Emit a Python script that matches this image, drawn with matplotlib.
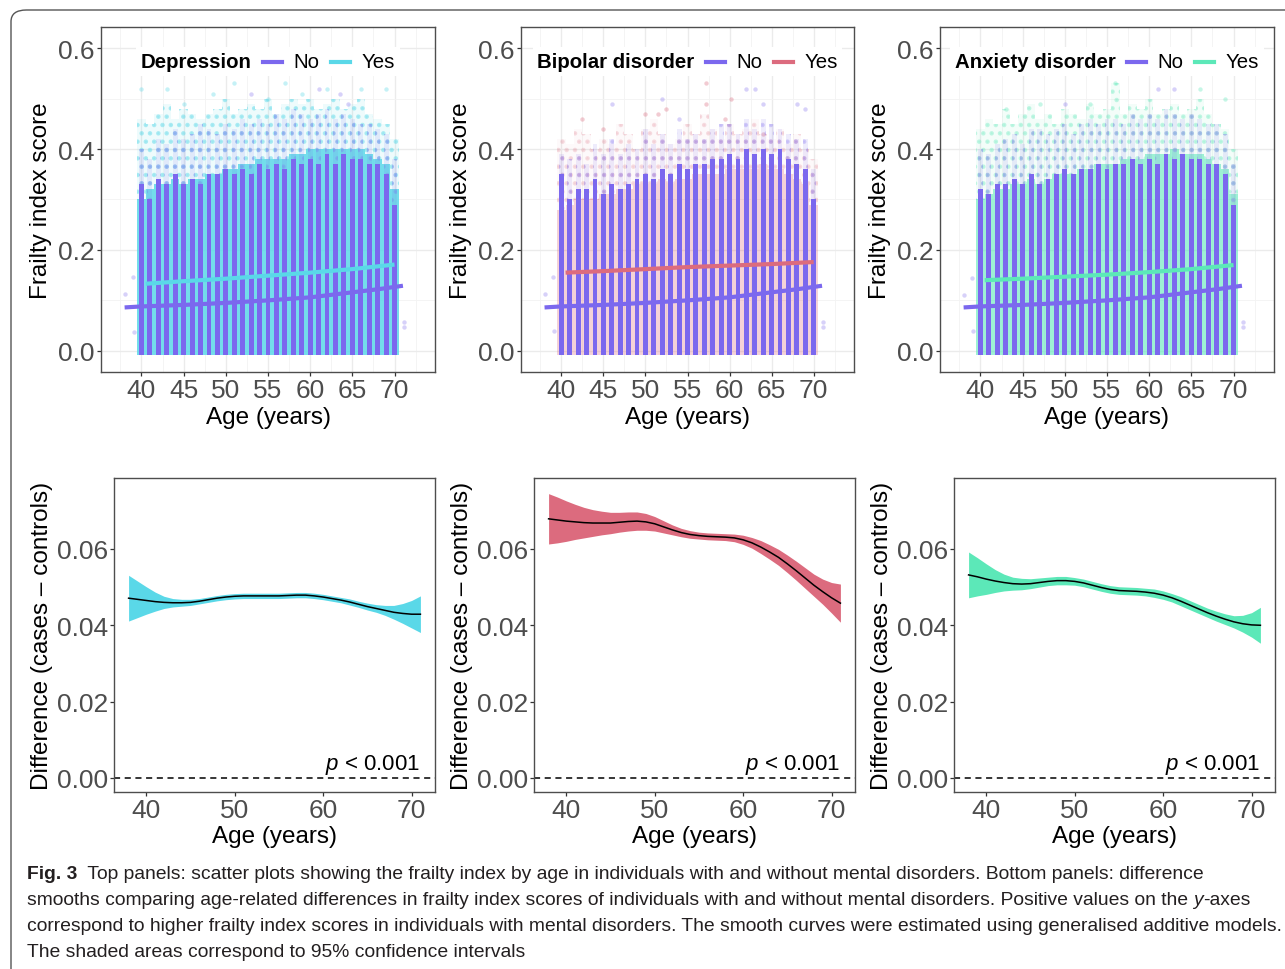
import matplotlib
matplotlib.use("Agg")
import matplotlib.pyplot as plt
from matplotlib.lines import Line2D
from matplotlib.patches import FancyBboxPatch
from matplotlib.text import Annotation
from matplotlib.offsetbox import AnchoredOffsetbox, HPacker, TextArea, DrawingArea
import numpy as np

plt.rcParams['font.family'] = ['Liberation Sans', 'DejaVu Sans']
plt.rcParams['mathtext.fontset'] = 'custom'
plt.rcParams['mathtext.it'] = 'Liberation Sans:italic'
plt.rcParams['mathtext.rm'] = 'Liberation Sans'
plt.rcParams['hatch.linewidth'] = 2.0

# ---- data ------------------------------------------------------------
ages = list(range(40, 71))

# depression: dense / sparse upper extent of the point clouds per age
dep_no_top = [.33, .30, .34, .33, .35, .33, .34, .33, .35, .35, .36, .35, .36, .35, .37, .36,
              .37, .36, .38, .37, .38, .37, .39, .37, .39, .38, .38, .37, .37, .35, .29]
dep_no_max = [.40, .38, .42, .41, .44, .42, .43, .45, .44, .43, .45, .44, .46, .45, .46, .45,
              .47, .46, .48, .47, .46, .47, .48, .46, .47, .46, .45, .45, .44, .43, .38]
dep_yes_top = [.30, .32, .33, .33, .34, .33, .34, .34, .35, .35, .36, .36, .37, .37, .38, .38,
               .38, .38, .39, .39, .40, .40, .40, .40, .40, .40, .40, .39, .38, .37, .32]
dep_yes_max = [.46, .45, .47, .49, .46, .48, .47, .46, .47, .48, .50, .47, .48, .49, .48, .50,
               .47, .49, .50, .49, .50, .48, .49, .50, .48, .49, .50, .47, .46, .45, .42]
dep_no_out_x = [38.0, 39.0, 39.1, 71.1, 71.1, 53.0, 61.0, 63.5, 64.5]
dep_no_out_y = [0.113, 0.146, 0.037, 0.058, 0.047, 0.51, 0.52, 0.51, 0.49]
dep_yes_out_x = [40.0, 43.0, 48.5, 51.0, 55.0, 57.0, 59.0, 62.0, 66.0, 69.0, 45.0]
dep_yes_out_y = [0.52, 0.52, 0.51, 0.53, 0.50, 0.53, 0.51, 0.52, 0.52, 0.52, 0.49]

# bipolar disorder
bip_no_top = [.35, .30, .32, .32, .34, .31, .33, .32, .33, .34, .35, .34, .36, .35, .37, .36,
              .37, .37, .38, .38, .39, .38, .40, .39, .40, .39, .40, .38, .37, .36, .30]
bip_no_max = [.39, .38, .39, .37, .41, .39, .42, .39, .41, .40, .44, .41, .43, .41, .44, .42,
              .43, .42, .44, .45, .45, .43, .46, .44, .46, .45, .44, .43, .42, .42, .36]
bip_yes_top = [.28, .29, .30, .30, .30, .31, .31, .32, .32, .33, .33, .33, .34, .33, .34, .34,
               .35, .35, .35, .35, .36, .36, .36, .36, .37, .36, .36, .35, .34, .33, .29]
bip_yes_max = [.42, .41, .44, .43, .40, .42, .41, .45, .43, .40, .44, .46, .43, .41, .42, .45,
               .43, .47, .44, .42, .45, .43, .44, .46, .43, .42, .44, .41, .43, .40, .38]
bip_no_out_x = [38.0, 39.0, 39.1, 71.1, 71.1, 46.0, 52.0, 54.0, 62.0, 63.0, 64.0, 68.0, 69.0]
bip_no_out_y = [0.113, 0.146, 0.040, 0.058, 0.047, 0.49, 0.50, 0.46, 0.52, 0.52, 0.49, 0.49, 0.48]
bip_yes_out_x = [42.5, 50.0, 51.5, 52.5, 57.2, 57.2, 60.2, 59.5, 45.0, 64.0]
bip_yes_out_y = [0.46, 0.47, 0.47, 0.48, 0.53, 0.49, 0.50, 0.46, 0.44, 0.43]

# anxiety disorder
anx_no_top = [.32, .31, .33, .33, .34, .33, .35, .33, .34, .35, .36, .35, .36, .36, .37, .36,
              .37, .37, .38, .37, .38, .37, .39, .38, .39, .38, .38, .37, .37, .35, .29]
anx_no_max = [.40, .39, .41, .42, .43, .41, .44, .44, .43, .44, .45, .43, .45, .46, .45, .46,
              .46, .45, .47, .46, .47, .46, .48, .47, .46, .47, .46, .45, .45, .43, .37]
anx_yes_top = [.30, .31, .32, .32, .33, .33, .34, .33, .34, .35, .35, .35, .36, .36, .37, .37,
               .37, .38, .38, .38, .39, .39, .39, .40, .39, .39, .39, .38, .37, .36, .31]
anx_yes_max = [.44, .46, .45, .48, .45, .47, .49, .46, .47, .45, .48, .47, .46, .49, .47, .48,
               .53, .47, .49, .48, .50, .47, .48, .49, .47, .48, .50, .47, .45, .44, .40]
anx_no_out_x = [38.0, 39.0, 39.1, 71.1, 71.1, 61.0, 63.0, 50.0]
anx_no_out_y = [0.110, 0.145, 0.040, 0.058, 0.047, 0.52, 0.52, 0.49]
anx_yes_out_x = [43.0, 47.0, 56.0, 66.0, 53.0, 69.0]
anx_yes_out_y = [0.48, 0.49, 0.53, 0.52, 0.49, 0.50]

# fitted smooths (top panels)
no_fit_x = [38, 40, 45, 50, 55, 60, 65, 68, 71]
no_fit_y = [0.086, 0.088, 0.091, 0.095, 0.100, 0.106, 0.116, 0.122, 0.129]
fit_x_yes = [40.5, 45, 50, 55, 60, 65, 70]
dep_fit_yes = [0.133, 0.138, 0.143, 0.149, 0.155, 0.162, 0.171]
bip_fit_yes = [0.155, 0.158, 0.162, 0.166, 0.169, 0.172, 0.176]
anx_fit_yes = [0.140, 0.143, 0.147, 0.151, 0.156, 0.162, 0.170]

# difference smooths (bottom panels)
diff_age = list(range(38, 72))
dep_diff = [.0471, .0468, .0465, .0462, .0460, .0459, .0459, .0460, .0463, .0467, .0471, .0474,
            .0476, .0477, .0477, .0477, .0477, .0477, .0478, .0479, .0479, .0477, .0474, .0470,
            .0466, .0461, .0455, .0449, .0444, .0439, .0434, .0431, .0429, .0429]
dep_half = [.0060, .0048, .0036, .0025, .0016, .0011, .0009, .0008, .0007, .0007, .0007, .0007,
            .0007, .0007, .0007, .0007, .0007, .0007, .0007, .0007, .0007, .0007, .0007, .0007,
            .0007, .0008, .0008, .0009, .0010, .0013, .0018, .0026, .0036, .0048]
bip_diff = [.0679, .0676, .0673, .0671, .0669, .0668, .0668, .0668, .0670, .0672, .0673, .0671,
            .0666, .0658, .0650, .0643, .0638, .0635, .0633, .0632, .0631, .0629, .0624, .0616,
            .0605, .0592, .0578, .0561, .0543, .0524, .0505, .0488, .0472, .0458]
bip_half = [.0066, .0060, .0053, .0046, .0040, .0035, .0031, .0028, .0026, .0025, .0024, .0022,
            .0019, .0016, .0013, .0011, .0010, .0009, .0009, .0009, .0009, .0010, .0012, .0014,
            .0017, .0019, .0021, .0023, .0025, .0027, .0029, .0033, .0040, .0050]
anx_diff = [.0532, .0527, .0521, .0516, .0512, .0509, .0508, .0509, .0512, .0515, .0517, .0517,
            .0515, .0511, .0505, .0499, .0494, .0491, .0490, .0489, .0487, .0484, .0479, .0472,
            .0463, .0453, .0443, .0433, .0424, .0416, .0409, .0404, .0401, .0400]
anx_half = [.0060, .0050, .0040, .0030, .0022, .0017, .0015, .0013, .0012, .0011, .0011, .0011,
            .0010, .0010, .0010, .0010, .0010, .0010, .0010, .0010, .0010, .0011, .0011, .0011,
            .0012, .0012, .0012, .0012, .0013, .0014, .0016, .0022, .0032, .0047]

titles = ["Depression", "Bipolar disorder", "Anxiety disorder"]
purple = "#7B68EE"
yes_colors = ["#5AD8E8", "#DC6B7E", "#5CE8B8"]
yes_alpha = [0.85, 0.3, 0.6]

top_data = [
    (dep_no_top, dep_no_max, dep_yes_top, dep_yes_max, dep_no_out_x, dep_no_out_y, dep_yes_out_x, dep_yes_out_y, dep_fit_yes),
    (bip_no_top, bip_no_max, bip_yes_top, bip_yes_max, bip_no_out_x, bip_no_out_y, bip_yes_out_x, bip_yes_out_y, bip_fit_yes),
    (anx_no_top, anx_no_max, anx_yes_top, anx_yes_max, anx_no_out_x, anx_no_out_y, anx_yes_out_x, anx_yes_out_y, anx_fit_yes),
]
bottom_data = [(dep_diff, dep_half), (bip_diff, bip_half), (anx_diff, anx_half)]

W, H = 1285, 970
fig = plt.figure(figsize=(W / 100, H / 100), dpi=100)

TICK = 19
LAB = 17.5


def px_axes(l, r, t, b):
    return fig.add_axes([l / W, 1 - b / H, (r - l) / W, (b - t) / H])


def style_box(ax):
    for s in ax.spines.values():
        s.set_color("#4D4D4D")
        s.set_linewidth(1.0)
    ax.tick_params(which="major", length=3, width=0.9, color="#333333",
                   labelcolor="#4D4D4D", labelsize=TICK, pad=1.5)
    ax.tick_params(which="minor", length=0)


def key(c):
    da = DrawingArea(13.5, 10, 0, 0)
    da.add_artist(Line2D([0, 13.5], [5, 5], color=c, lw=3))
    return da


top_pos = [(101, 435), (521, 854), (940, 1274)]
bot_pos = [(114, 435), (534, 855), (954, 1275)]

for i in range(3):
    no_top, no_max, yes_top, yes_max, nox, noy, yesx, yesy, fit_yes = top_data[i]
    col = yes_colors[i]
    ax = px_axes(top_pos[i][0], top_pos[i][1], 28, 373)
    ax.set_xlim(35.2, 74.8)
    ax.set_ylim(-0.042, 0.642)
    ax.set_xticks(range(40, 71, 5))
    ax.set_xticks(np.arange(37.5, 75, 5), minor=True)
    ax.set_yticks([0, 0.2, 0.4, 0.6])
    ax.set_yticks([0.1, 0.3, 0.5], minor=True)
    ax.set_yticklabels(["0.0", "0.2", "0.4", "0.6"])
    ax.grid(which="major", color="#EBEBEB", lw=1.0)
    ax.grid(which="minor", color="#F3F3F3", lw=0.6)
    ax.set_axisbelow(True)
    style_box(ax)

    # cases (yes) cloud: dense part, then sparse dotted part
    yt = np.array(yes_top)
    ym = np.array(yes_max)
    ax.bar(ages, yt + 0.008, bottom=-0.008, width=1.0, color=col, alpha=yes_alpha[i], lw=0, zorder=2)
    ax.bar(ages, ym - yt, bottom=yt, width=1.0, facecolor=(col, yes_alpha[i] * 0.12),
           edgecolor=(col, min(1, yes_alpha[i] * 0.45 + 0.08)), hatch="..", lw=0, zorder=2)
    ax.scatter(yesx, yesy, s=10, color=col, alpha=0.35, lw=0, zorder=2)
    # controls (no) columns
    nt = np.array(no_top)
    nm = np.array(no_max)
    ax.bar(ages, nt + 0.008, bottom=-0.008, width=0.58, color=purple, lw=0, zorder=3)
    ax.bar(ages, nm - nt, bottom=nt, width=0.58, facecolor=(purple, 0.12),
           edgecolor=(purple, 0.28), hatch="..", lw=0, zorder=3)
    ax.scatter(nox, noy, s=10, color=purple, alpha=0.3, lw=0, zorder=3)

    ax.plot(no_fit_x, no_fit_y, color=purple, lw=3, solid_capstyle="butt", zorder=5)
    ax.plot(fit_x_yes, fit_yes, color=col, lw=3, solid_capstyle="butt", zorder=5)

    ax.set_xlabel("Age (years)", fontsize=LAB, labelpad=3)
    ax.set_ylabel("Frailty index score", fontsize=LAB)
    ax.yaxis.set_label_coords(-0.146, 0.5)

    # legend with its title on the left
    items = [TextArea(titles[i], textprops=dict(fontweight="bold", fontsize=14.7)),
             key(purple), TextArea("No", textprops=dict(fontsize=14.7)),
             key(col), TextArea("Yes", textprops=dict(fontsize=14.7))]
    box = HPacker(children=items, align="center", pad=0, sep=8.3)
    anch = AnchoredOffsetbox(loc="center", child=box, pad=0.35, frameon=True,
                             bbox_to_anchor=(0.5, 0.9), bbox_transform=ax.transAxes, borderpad=0)
    anch.patch.set_facecolor("white")
    anch.patch.set_edgecolor("none")
    anch.set_zorder(6)
    ax.add_artist(anch)

    # bottom panel: difference smooth
    diff, half = bottom_data[i]
    d = np.array(diff)
    h = np.array(half)
    bx = px_axes(bot_pos[i][0], bot_pos[i][1], 479, 793)
    bx.set_xlim(36.35, 72.65)
    bx.set_ylim(-0.0037, 0.0786)
    bx.set_xticks([40, 50, 60, 70])
    bx.set_yticks([0, 0.02, 0.04, 0.06])
    bx.set_yticklabels(["0.00", "0.02", "0.04", "0.06"])
    style_box(bx)
    bx.axhline(0, color="black", lw=1.1, ls=(0, (4, 3)))
    bx.fill_between(diff_age, d - h, d + h, color=col, lw=0)
    bx.plot(diff_age, d, color="black", lw=1.1)
    bx.text(0.953, 0.073, r"$p$ < 0.001", transform=bx.transAxes, ha="right", va="baseline",
            fontsize=16)
    bx.set_xlabel("Age (years)", fontsize=LAB, labelpad=2)
    bx.set_ylabel("Difference (cases – controls)", fontsize=LAB)
    bx.yaxis.set_label_coords(-0.19, 0.5)

# outer frame
frame = FancyBboxPatch((11 / W, -0.05), 1.05, 1 - 11 / H + 0.05,
                       boxstyle="round,pad=0,rounding_size=0.012", transform=fig.transFigure,
                       fc="none", ec="#555555", lw=1.0)
fig.add_artist(frame)

# caption
cap_font = ['Liberation Sans', 'DejaVu Sans']
cap_size = 13.9
cap_color = "#231F20"
base = [879, 905, 931, 957]
t1 = fig.text(27 / W, 1 - base[0] / H, "Fig. 3", fontweight="bold", family=cap_font,
              fontsize=cap_size, color=cap_color, va="baseline")
fig.add_artist(Annotation("  Top panels: scatter plots showing the frailty index by age in individuals with and without mental disorders. Bottom panels: difference",
                          xy=(1, 0), xycoords=t1, va="bottom", ha="left", family=cap_font,
                          fontsize=cap_size, color=cap_color))
t2 = fig.text(27 / W, 1 - base[1] / H, "smooths comparing age-related differences in frailty index scores of individuals with and without mental disorders. Positive values on the ",
              family=cap_font, fontsize=cap_size, color=cap_color, va="baseline")
t2b = Annotation("y", xy=(1, 0), xycoords=t2, va="bottom", ha="left", family=cap_font,
                 fontsize=cap_size, color=cap_color, style="italic")
fig.add_artist(t2b)
fig.add_artist(Annotation("-axes", xy=(1, 0), xycoords=t2b, va="bottom", ha="left", family=cap_font,
                          fontsize=cap_size, color=cap_color))
fig.text(27 / W, 1 - base[2] / H, "correspond to higher frailty index scores in individuals with mental disorders. The smooth curves were estimated using generalised additive models.",
         family=cap_font, fontsize=cap_size, color=cap_color, va="baseline")
fig.text(27 / W, 1 - base[3] / H, "The shaded areas correspond to 95% confidence intervals",
         family=cap_font, fontsize=cap_size, color=cap_color, va="baseline")

fig.savefig("out.png", dpi=100)
